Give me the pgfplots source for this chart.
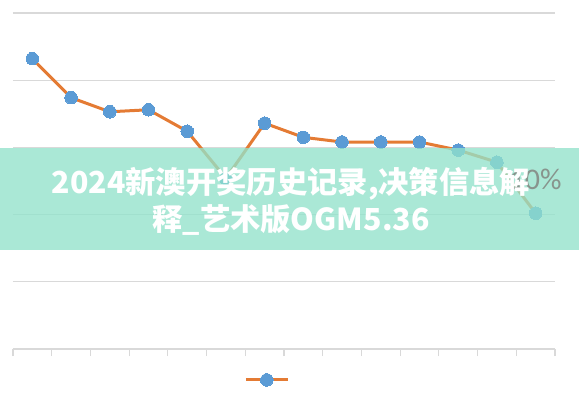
\documentclass[border=0pt]{standalone}
\usepackage{pgfplots}
\pgfplotsset{compat=1.18}
\usetikzlibrary{calc}
\usepackage{fontspec}
\setmainfont{Carlito}
\newfontfamily\cjk{Noto Sans CJK SC}

\definecolor{lineorange}{RGB}{228,123,52}
\definecolor{markblue}{RGB}{91,155,213}
\definecolor{gridgray}{RGB}{217,217,217}
\definecolor{labelgray}{RGB}{136,148,141}
\definecolor{bannergreen}{RGB}{146,226,203}

\begin{document}
\begin{tikzpicture}
\begin{axis}[
scale only axis,
width=542pt,
height=336pt,
xmin=0, xmax=14,
ymin=0, ymax=50,
xtick={0,1,...,14},
xticklabels={},
ytick={0,10,...,50},
yticklabels={},
ymajorgrids,
grid style={gridgray, line width=1.2pt},
axis x line*=bottom,
axis y line*=left,
y axis line style={draw=none},
ytick style={draw=none},
x axis line style={gridgray, line width=1.2pt},
xtick style={gridgray, line width=1.2pt},
tick align=outside,
major tick length=7pt,
clip=false,
legend style={at={(0.472,-0.092)}, anchor=center, draw=none, fill=none},
legend image code/.code={\draw[mark repeat=2,mark phase=2] plot coordinates {(0pt,0pt) (21pt,0pt) (42pt,0pt)};}
]
\addplot[color=lineorange, line width=3pt, mark=*, mark size=6.3pt,
  mark options={fill=markblue, draw=markblue, line width=0pt}]
coordinates {
(0.5,43.2) (1.5,37.4) (2.5,35.3) (3.5,35.6) (4.5,32.4) (5.5,25.4) (6.5,33.6)
(7.5,31.5) (8.5,30.8) (9.5,30.8) (10.5,30.8) (11.5,29.6) (12.5,27.8) (13.5,20.2)
};
\addlegendentry{}
\coordinate (lab) at (axis cs:14.26,25.3);
\end{axis}
\coordinate (O) at ($(current axis.south west)+(-13pt,-51pt)$);
\pgfresetboundingbox
\useasboundingbox (O) rectangle ($(O)+(579pt,400pt)$);
\fill[bannergreen, opacity=0.78] ($(O)+(0pt,150pt)$) rectangle ($(O)+(579pt,252pt)$);
\node[anchor=east, text=labelgray, font=\fontsize{30}{30}\selectfont] at (lab) {10\%};
\node[text=white, font=\cjk\bfseries\fontsize{30.3}{37}\selectfont, align=center]
  at ($(O)+(291pt,199pt)$)
  {2024新澳开奖历史记录,决策信息解\\释\_艺术版OGM5.36};
\end{tikzpicture}
\end{document}
